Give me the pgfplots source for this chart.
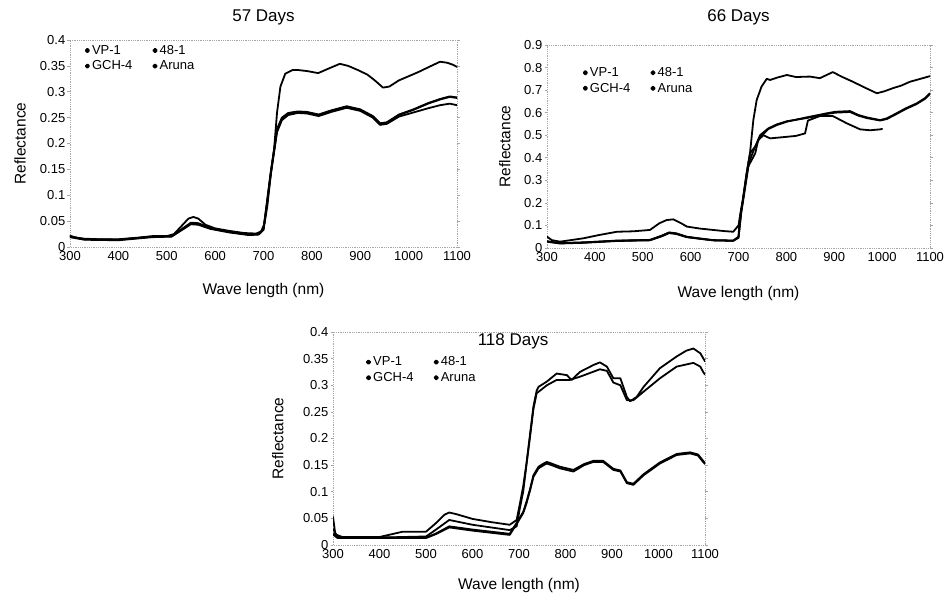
\documentclass[border=0pt]{standalone}
\usepackage{pgfplots}
\pgfplotsset{compat=1.18}
\usepackage{fontspec}
\setmainfont{Liberation Sans}
\pgfplotsset{
  refl/.style={
    scale only axis,
    xmin=300, xmax=1100,
    xtick={300,400,...,1100},
    axis line style={draw=gray!70, densely dotted, line width=0.8pt},
    tick align=outside,
    major tick length=2.5pt,
    xtick style={draw=none},
    ytick style={draw=gray!70, line width=0.6pt},
    ticklabel style={font=\fontsize{13}{13}\selectfont},
    xticklabel style={inner sep=2pt, /pgf/number format/1000 sep={}},
    yticklabel style={inner sep=2pt, /pgf/number format/fixed},
    /pgf/number format/assume math mode=true,
    label style={font=\fontsize{15.5}{15.5}\selectfont},
    title style={font=\fontsize{17}{17}\selectfont, anchor=center},
    xlabel={Wave length (nm)},
    ylabel={Reflectance},
    cycle list={{black, mark=none}},
    every axis plot/.append style={line width=1.8pt, line join=round, line cap=round},
    legend columns=2,
    legend cell align=left,
    legend style={draw=none, fill=none, font=\fontsize{13}{13}\selectfont,
      anchor=north west, row sep=1pt,
      /tikz/every even column/.append style={column sep=18pt}},
    legend image code/.code={\fill[black] (0.12cm,0cm) circle (1.7pt);},
  }
}
\begin{document}
\begin{tikzpicture}[x=1pt,y=1pt]
\path[use as bounding box] (0,0) rectangle (948,592);

% ---------------- 57 Days ----------------
\begin{axis}[refl,
  at={(70pt,345pt)}, anchor=south west,
  width=387pt, height=207pt,
  ymin=0, ymax=0.4, ytick={0,0.05,...,0.41},
  title={57 Days}, title style={at={(axis description cs:0.5,1.082)}},
  xlabel style={at={(axis description cs:0.5,-0.208)}, anchor=center},
  ylabel style={at={(axis description cs:-0.129,0.5)}, anchor=center},
  legend style={at={(axis description cs:0.03,0.995)}},
]
\addplot coordinates {(300,0.022)(310,0.018)(330,0.016)(360,0.015)(400,0.015)(440,0.018)(470,0.021)(500,0.021)(515,0.025)(530,0.040)(545,0.055)(555,0.058)(565,0.055)(580,0.043)(600,0.036)(630,0.031)(660,0.027)(685,0.026)(695,0.030)(702,0.045)(708,0.080)(715,0.140)(722,0.190)(728,0.260)(735,0.310)(745,0.335)(760,0.342)(771,0.342)(790,0.340)(813,0.336)(835,0.345)(858,0.354)(875,0.350)(895,0.342)(915,0.333)(930,0.322)(947,0.308)(960,0.310)(980,0.322)(1000,0.330)(1020,0.338)(1040,0.347)(1065,0.358)(1080,0.356)(1092,0.352)(1100,0.348)};
\addlegendentry{VP-1}
\addplot coordinates {(300,0.020)(330,0.015)(400,0.014)(470,0.020)(510,0.021)(530,0.033)(550,0.046)(565,0.045)(590,0.036)(630,0.029)(670,0.024)(690,0.025)(700,0.035)(706,0.077)(715,0.143)(722,0.187)(728,0.226)(738,0.248)(751,0.258)(771,0.261)(790,0.260)(814,0.255)(840,0.263)(872,0.271)(900,0.265)(926,0.252)(941,0.238)(955,0.240)(980,0.255)(1010,0.265)(1040,0.277)(1065,0.285)(1085,0.290)(1100,0.288)};
\addlegendentry{48-1}
\addplot coordinates {(300,0.019)(330,0.014)(400,0.013)(470,0.019)(510,0.020)(530,0.032)(550,0.044)(565,0.043)(590,0.035)(630,0.028)(670,0.023)(690,0.024)(700,0.033)(706,0.074)(715,0.140)(722,0.184)(728,0.222)(738,0.245)(751,0.255)(771,0.259)(790,0.258)(814,0.253)(840,0.261)(872,0.269)(900,0.263)(926,0.250)(941,0.236)(955,0.238)(980,0.252)(1010,0.260)(1040,0.268)(1065,0.274)(1085,0.277)(1100,0.274)};
\addlegendentry{GCH-4}
\addplot coordinates {(300,0.021)(330,0.015)(400,0.014)(470,0.020)(510,0.021)(530,0.034)(550,0.047)(565,0.046)(590,0.037)(630,0.029)(670,0.024)(690,0.025)(700,0.035)(706,0.078)(715,0.145)(722,0.189)(728,0.228)(738,0.250)(751,0.259)(771,0.262)(790,0.261)(814,0.256)(840,0.264)(872,0.272)(900,0.266)(926,0.253)(941,0.239)(955,0.241)(980,0.256)(1010,0.266)(1040,0.278)(1065,0.286)(1085,0.291)(1100,0.289)};
\addlegendentry{Aruna}
\end{axis}

% ---------------- 66 Days ----------------
\begin{axis}[refl,
  at={(547pt,344pt)}, anchor=south west,
  width=383pt, height=203pt,
  ymin=0, ymax=0.9, ytick={0,0.1,...,0.91},
  title={66 Days}, title style={at={(axis description cs:0.5,1.108)}},
  xlabel style={at={(axis description cs:0.5,-0.222)}, anchor=center},
  ylabel style={at={(axis description cs:-0.110,0.5)}, anchor=center},
  legend style={at={(axis description cs:0.085,0.91)}},
]
\addplot coordinates {(300,0.050)(310,0.035)(327,0.028)(350,0.035)(376,0.043)(410,0.058)(446,0.072)(480,0.074)(515,0.080)(535,0.110)(550,0.124)(564,0.127)(580,0.110)(592,0.095)(620,0.086)(647,0.080)(670,0.075)(689,0.072)(700,0.100)(709,0.213)(717,0.331)(724,0.420)(731,0.567)(738,0.656)(748,0.715)(759,0.750)(766,0.745)(780,0.755)(801,0.767)(820,0.758)(849,0.760)(870,0.753)(897,0.780)(915,0.760)(939,0.737)(965,0.710)(989,0.686)(1005,0.695)(1023,0.709)(1040,0.720)(1058,0.737)(1080,0.750)(1100,0.762)};
\addlegendentry{VP-1}
\addplot coordinates {(300,0.030)(327,0.021)(376,0.024)(446,0.033)(515,0.035)(540,0.055)(555,0.069)(570,0.065)(592,0.050)(620,0.042)(647,0.035)(689,0.033)(700,0.050)(703,0.139)(709,0.213)(717,0.331)(724,0.420)(735,0.450)(745,0.490)(762,0.527)(780,0.545)(801,0.560)(842,0.579)(884,0.597)(902,0.604)(933,0.607)(950,0.590)(968,0.579)(996,0.567)(1010,0.575)(1030,0.597)(1050,0.620)(1072,0.641)(1090,0.665)(1100,0.686)};
\addlegendentry{48-1}
\addplot coordinates {(300,0.028)(327,0.020)(376,0.023)(446,0.031)(515,0.034)(540,0.052)(555,0.066)(570,0.062)(592,0.048)(647,0.034)(689,0.032)(700,0.045)(705,0.150)(712,0.250)(720,0.360)(735,0.420)(741,0.478)(752,0.500)(766,0.486)(801,0.493)(820,0.497)(839,0.508)(845,0.565)(870,0.585)(897,0.585)(926,0.553)(954,0.526)(975,0.522)(996,0.526)(1000,0.528)};
\addlegendentry{GCH-4}
\addplot coordinates {(300,0.029)(327,0.022)(376,0.025)(446,0.032)(515,0.036)(540,0.054)(555,0.068)(570,0.064)(592,0.049)(620,0.041)(647,0.034)(689,0.032)(700,0.048)(706,0.160)(714,0.270)(722,0.380)(733,0.440)(745,0.500)(762,0.530)(780,0.548)(801,0.562)(842,0.576)(884,0.594)(902,0.600)(933,0.603)(950,0.587)(968,0.576)(996,0.565)(1010,0.572)(1030,0.594)(1050,0.617)(1072,0.638)(1090,0.662)(1100,0.683)};
\addlegendentry{Aruna}
\end{axis}

% ---------------- 118 Days ----------------
\begin{axis}[refl,
  at={(333pt,47pt)}, anchor=south west,
  width=372pt, height=213pt,
  ymin=0, ymax=0.4, ytick={0,0.05,...,0.41},
  title={118 Days}, title style={at={(axis description cs:0.484,0.93)}},
  xlabel style={at={(axis description cs:0.5,-0.188)}, anchor=center},
  ylabel style={at={(axis description cs:-0.148,0.5)}, anchor=center},
  legend style={at={(axis description cs:0.08,0.903)}},
]
\addplot coordinates {(300,0.053)(305,0.020)(320,0.015)(400,0.015)(450,0.025)(500,0.025)(520,0.040)(540,0.057)(550,0.061)(565,0.058)(600,0.049)(640,0.043)(680,0.038)(695,0.047)(702,0.078)(709,0.110)(716,0.153)(724,0.210)(731,0.260)(738,0.290)(742,0.297)(760,0.307)(781,0.322)(803,0.319)(813,0.310)(831,0.325)(860,0.338)(874,0.343)(889,0.335)(903,0.313)(918,0.313)(932,0.278)(939,0.270)(953,0.278)(968,0.297)(1003,0.332)(1039,0.354)(1060,0.365)(1075,0.369)(1090,0.360)(1096,0.351)(1100,0.345)};
\addlegendentry{VP-1}
\addplot coordinates {(300,0.030)(310,0.015)(400,0.014)(500,0.016)(520,0.028)(550,0.047)(600,0.038)(680,0.028)(695,0.035)(702,0.070)(709,0.100)(716,0.150)(724,0.205)(731,0.255)(738,0.285)(760,0.300)(781,0.310)(809,0.310)(831,0.316)(874,0.330)(889,0.327)(903,0.305)(918,0.300)(932,0.272)(946,0.272)(968,0.288)(1003,0.313)(1039,0.335)(1075,0.342)(1090,0.335)(1096,0.325)(1100,0.320)};
\addlegendentry{48-1}
\addplot coordinates {(300,0.020)(310,0.013)(400,0.013)(500,0.013)(520,0.020)(550,0.033)(600,0.027)(680,0.019)(698,0.044)(709,0.060)(716,0.078)(724,0.103)(731,0.128)(742,0.144)(753,0.150)(760,0.153)(770,0.150)(788,0.144)(817,0.138)(840,0.150)(860,0.156)(881,0.156)(903,0.141)(918,0.138)(932,0.116)(946,0.113)(968,0.131)(1003,0.153)(1039,0.169)(1068,0.172)(1085,0.168)(1096,0.156)(1100,0.152)};
\addlegendentry{GCH-4}
\addplot coordinates {(300,0.021)(310,0.014)(400,0.014)(500,0.014)(520,0.021)(550,0.035)(600,0.029)(680,0.021)(698,0.046)(709,0.062)(716,0.081)(724,0.106)(731,0.131)(742,0.147)(753,0.153)(760,0.156)(770,0.153)(788,0.147)(817,0.141)(840,0.152)(860,0.158)(881,0.158)(903,0.143)(918,0.140)(932,0.118)(946,0.115)(968,0.133)(1003,0.155)(1039,0.171)(1068,0.174)(1085,0.170)(1096,0.158)(1100,0.154)};
\addlegendentry{Aruna}
\end{axis}
\end{tikzpicture}
\end{document}
